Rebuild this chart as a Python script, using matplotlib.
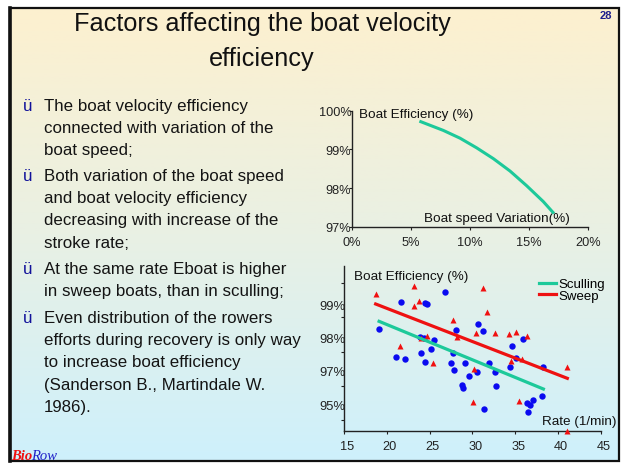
import numpy as np
import matplotlib
matplotlib.use('Agg')
import matplotlib.pyplot as plt
from matplotlib.patches import Rectangle
from matplotlib.colors import LinearSegmentedColormap
from matplotlib.transforms import ScaledTranslation

plt.rcParams['font.family'] = ['Liberation Sans', 'DejaVu Sans']

# ---------------- data ----------------
title_lines = ["Factors affecting the boat velocity", "efficiency"]
bullets = [
    ["The boat velocity efficiency", "connected with variation of the", "boat speed;"],
    ["Both variation of the boat speed", "and boat velocity efficiency",
     "decreasing with increase of the", "stroke rate;"],
    ["At the same rate Eboat is higher", "in sweep boats, than in sculling;"],
    ["Even distribution of the rowers", "efforts during recovery is only way",
     "to increase boat efficiency", "(Sanderson B., Martindale W.", "1986)."],
]

# top chart: boat efficiency vs boat speed variation (%)
var_x = [5.71, 7.74, 9.15, 10.56, 11.98, 13.39, 14.8, 16.21, 17.12]
eff_y = [99.73, 99.49, 99.29, 99.04, 98.76, 98.44, 98.06, 97.65, 97.34]
top_xticks = [0, 5, 10, 15, 20]
top_xlabels = ["0%", "5%", "10%", "15%", "20%"]
top_yticks = [97, 98, 99, 100]
top_ylabels = ["97%", "98%", "99%", "100%"]

# bottom chart: efficiency vs stroke rate
scull_rate = [19.1, 21.7, 24.5, 24.7, 26.8, 21.1, 22.1, 23.9, 24.4, 25.5, 25.2, 24.0,
              24.5, 27.7, 28.1, 27.5, 27.9, 29.1, 29.6, 28.8, 28.9, 30.7, 31.3, 30.5,
              31.9, 32.7, 32.8, 31.4, 34.6, 35.1, 34.4, 35.9, 36.4, 36.7, 36.5, 37.1,
              38.1, 38.3]
scull_eff = [98.25, 99.07, 99.03, 99.01, 99.37, 97.40, 97.35, 98.02, 97.99, 97.91, 97.65, 97.54,
             97.25, 97.54, 98.23, 97.23, 97.03, 97.22, 96.84, 96.57, 96.47, 98.40, 98.20, 96.95,
             97.22, 96.95, 96.55, 95.85, 97.74, 97.37, 97.11, 97.94, 96.03, 95.97, 95.75, 96.12,
             96.23, 97.11]
sweep_rate = [18.7, 23.2, 23.8, 23.2, 24.7, 24.0, 21.5, 25.4, 27.7, 28.2, 31.2, 31.7,
              30.4, 32.7, 30.2, 30.1, 34.3, 35.1, 36.4, 34.5, 35.8, 35.5, 41.1, 41.1]
sweep_eff = [99.30, 99.54, 99.09, 98.95, 98.05, 97.97, 97.75, 97.23, 98.52, 98.00, 99.47, 98.77,
             98.13, 98.13, 97.05, 96.05, 98.09, 98.16, 98.03, 97.30, 97.35, 96.09, 97.12, 95.19]
scull_trend_x = [19.1, 38.3]
scull_trend_y = [98.48, 96.45]
sweep_trend_x = [18.7, 41.1]
sweep_trend_y = [99.00, 96.77]
bot_xticks = [15, 20, 25, 30, 35, 40, 45]
bot_ytick_pos = [99.63, 98.60, 97.57, 96.55, 95.52]
bot_ylabel_pos = [99, 98, 97, 96]
bot_ylabels = ["99%", "98%", "97%", "95%"]
series_names = ["Sculling", "Sweep"]

# ---------------- figure ----------------
W, H = 622, 464
fig = plt.figure(figsize=(6.22, 4.64), dpi=100)
fig.patch.set_facecolor('white')

bg = fig.add_axes([0, 0, 1, 1])
bg.set_xlim(0, W)
bg.set_ylim(H, 0)
bg.axis('off')
cmap = LinearSegmentedColormap.from_list('g', ['#FDF0CF', '#E9F0E4', '#CEF1FC'])
grad = np.linspace(0, 1, 256).reshape(-1, 1)
bg.imshow(grad, cmap=cmap, aspect='auto', extent=[9, 619, 462, 9], zorder=0)
bg.add_patch(Rectangle((9.5, 9), 609.5, 453, fill=False, ec='#111111', lw=1.6, zorder=2))
bg.plot([10, 10], [9, 462], color='#111111', lw=2.6, zorder=2)
bg.set_xlim(0, W)
bg.set_ylim(H, 0)

# title
bg.text(262, 30.7, title_lines[0], ha='center', va='baseline', fontsize=18.2, color='#111111')
bg.text(262, 66, title_lines[1], ha='center', va='baseline', fontsize=18.2, color='#111111')
bg.text(612.5, 19.3, "28", ha='right', va='baseline', fontsize=8, fontweight='bold', color='#1E1E8C')

# bullets
starts = [110.7, 180.7, 274.0, 322.7]
step = 22.4
for b, y0 in zip(bullets, starts):
    bg.text(22.5, y0, "ü", ha='left', va='baseline', fontsize=12.2, color='#12129A')
    for i, line in enumerate(b):
        bg.text(44, y0 + i * step, line, ha='left', va='baseline', fontsize=12.2, color='#141414')

# logo
bg.text(11, 460, "Bio", ha='left', va='baseline', fontsize=10.5, color='#F01010',
        fontstyle='italic', fontweight='bold', family=['Liberation Serif', 'DejaVu Serif'])
bg.text(31, 460, "Row", ha='left', va='baseline', fontsize=10.5, color='#2020C8',
        fontstyle='italic', family=['Liberation Serif', 'DejaVu Serif'])

# ---------------- top chart ----------------
green = '#1DC99A'
ax1 = fig.add_axes([352 / W, 1 - 227.7 / H, 236 / W, 116 / H])
ax1.patch.set_alpha(0)
ax1.plot(var_x, eff_y, color=green, lw=2.2, solid_capstyle='butt', solid_joinstyle='round')
ax1.set_xlim(0, 20)
ax1.set_ylim(97, 100)
ax1.set_xticks(top_xticks)
ax1.set_xticklabels(top_xlabels)
ax1.set_yticks(top_yticks)
ax1.set_yticklabels(top_ylabels)
for s in ['top', 'right']:
    ax1.spines[s].set_visible(False)
for s in ['left', 'bottom']:
    ax1.spines[s].set_color('#222222')
    ax1.spines[s].set_linewidth(1.0)
ax1.tick_params(axis='x', direction='out', length=2, pad=5, labelsize=9.2, colors='#222222')
ax1.tick_params(axis='y', direction='out', length=2, pad=-1.5, labelsize=9.2, colors='#222222')
bg.text(359, 115, "Boat Efficiency (%)", ha='left', va='center', fontsize=9.7, color='#111111', zorder=5)
bg.text(424, 219, "Boat speed Variation(%)", ha='left', va='center', fontsize=9.7, color='#111111', zorder=5)

# ---------------- bottom chart ----------------
ax2 = fig.add_axes([344 / W, 1 - 432 / H, 256.7 / W, 165 / H])
ax2.patch.set_alpha(0)
ax2.plot(scull_rate, scull_eff, 'o', color='#0A0AF0', ms=4.6, mec='none', clip_on=False, zorder=3)
ax2.plot(sweep_rate, sweep_eff, '^', color='#F01010', ms=4.6, mec='none', clip_on=False, zorder=3)
l1, = ax2.plot(scull_trend_x, scull_trend_y, color=green, lw=2.3, zorder=4, label=series_names[0])
l2, = ax2.plot(sweep_trend_x, sweep_trend_y, color='#EE1111', lw=2.3, zorder=4, label=series_names[1])
ax2.set_xlim(15, 45)
ax2.set_ylim(95.19, 100.14)
ax2.set_xticks(bot_xticks)
ax2.set_yticks(bot_ytick_pos)
ax2.set_yticklabels([])
ax2.set_yticks(bot_ylabel_pos, minor=True)
ax2.set_yticklabels(bot_ylabels, minor=True)
for s in ['top', 'right']:
    ax2.spines[s].set_visible(False)
for s in ['left', 'bottom']:
    ax2.spines[s].set_color('#222222')
    ax2.spines[s].set_linewidth(1.0)
ax2.tick_params(axis='x', which='major', direction='out', length=2.5, pad=4, labelsize=9.2, colors='#222222')
ax2.tick_params(axis='y', which='major', direction='out', length=2.5, colors='#222222')
ax2.tick_params(axis='y', which='minor', length=0, pad=-1, labelsize=9.4, colors='#222222')
ax2.tick_params(axis='x', which='minor', length=0)
for lab in ax2.get_xticklabels():
    lab.set_transform(lab.get_transform() + ScaledTranslation(3 / 100, 0, fig.dpi_scale_trans))
leg = ax2.legend(handles=[l1, l2], loc='upper left', bbox_to_anchor=((539 - 344) / 256.7, (432 - 279) / 165),
                 frameon=False, fontsize=9.5, handlelength=1.3, handletextpad=0.15,
                 labelspacing=-0.05, borderpad=0, borderaxespad=0)
bg.text(354, 277, "Boat Efficiency (%)", ha='left', va='center', fontsize=9.7, color='#111111', zorder=5)
bg.text(542, 422, "Rate (1/min)", ha='left', va='center', fontsize=9.7, color='#111111', zorder=5)

fig.savefig('out.png', dpi=100, facecolor=fig.get_facecolor())
